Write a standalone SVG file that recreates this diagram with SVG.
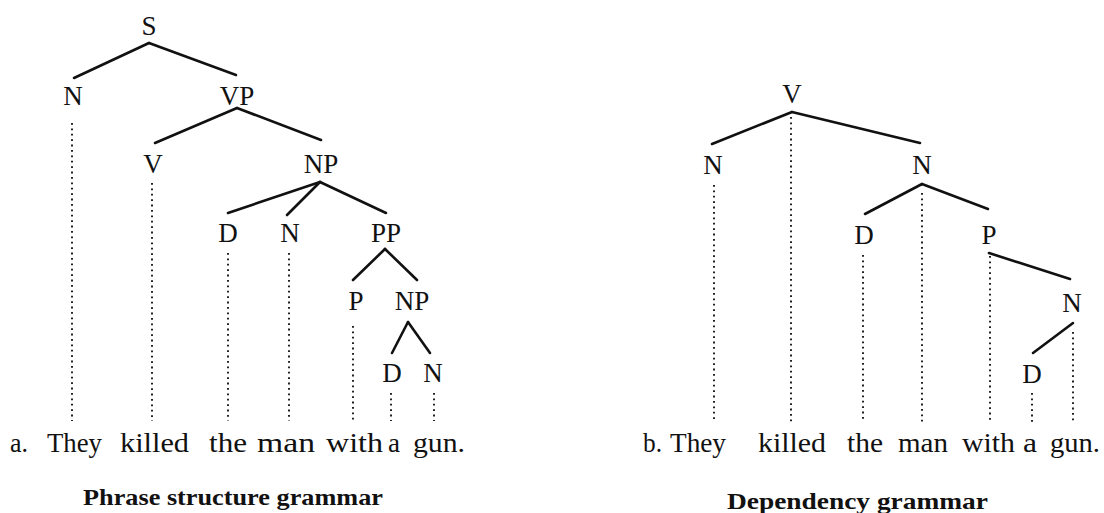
<svg xmlns="http://www.w3.org/2000/svg" width="1104" height="513" viewBox="0 0 1104 513">
<style>
.lbl{font-size:27px;fill:#111;text-anchor:middle}
.wd{font-size:28px;fill:#111}
.ttl{font-size:23px;font-weight:bold;fill:#111}
.edge{stroke:#111;stroke-width:2.6;fill:none;stroke-linecap:round}
.dot{stroke:#222;stroke-width:2;fill:none;stroke-dasharray:1.8 3.6}
</style>
<rect width="1104" height="513" fill="#fff"/>

<g font-family="Liberation Serif, Tinos, Times New Roman, Times, Nimbus Roman, FreeSerif, serif">
<!-- Phrase structure tree -->
<g id="connectors-a">
<line class="edge" x1="149" y1="43" x2="74" y2="78"/>
<line class="edge" x1="149" y1="43" x2="236" y2="75"/>
<line class="edge" x1="237" y1="108" x2="155" y2="143"/>
<line class="edge" x1="237" y1="108" x2="321" y2="140"/>
<line class="edge" x1="320" y1="182" x2="228" y2="213"/>
<line class="edge" x1="320" y1="182" x2="287" y2="215"/>
<line class="edge" x1="320" y1="182" x2="386" y2="213"/>
<line class="edge" x1="385" y1="249" x2="353" y2="280"/>
<line class="edge" x1="385" y1="249" x2="417" y2="280"/>
<line class="edge" x1="408" y1="322" x2="392" y2="353"/>
<line class="edge" x1="408" y1="322" x2="430" y2="353"/>
<line class="dot" x1="72" y1="123" x2="72" y2="421"/>
<line class="dot" x1="152" y1="183" x2="152" y2="421"/>
<line class="dot" x1="228" y1="253" x2="228" y2="421"/>
<line class="dot" x1="289" y1="253" x2="289" y2="421"/>
<line class="dot" x1="353" y1="326" x2="353" y2="421"/>
<line class="dot" x1="391" y1="393" x2="391" y2="421"/>
<line class="dot" x1="434" y1="393" x2="434" y2="421"/>
</g>
<g id="a-S"><text class="lbl" x="149" y="35">S</text></g>
<g id="a-N1"><text class="lbl" x="73" y="105">N</text></g>
<g id="a-VP"><text class="lbl" x="237" y="105">VP</text></g>
<g id="a-V"><text class="lbl" x="153" y="173">V</text></g>
<g id="a-NP1"><text class="lbl" x="321" y="173">NP</text></g>
<g id="a-D1"><text class="lbl" x="228" y="242">D</text></g>
<g id="a-N2"><text class="lbl" x="290" y="242">N</text></g>
<g id="a-PP"><text class="lbl" x="386" y="242">PP</text></g>
<g id="a-P"><text class="lbl" x="356" y="310">P</text></g>
<g id="a-NP2"><text class="lbl" x="412" y="310">NP</text></g>
<g id="a-D2"><text class="lbl" x="392" y="382">D</text></g>
<g id="a-N3"><text class="lbl" x="433" y="382">N</text></g>
<g id="a-sentence">
<text class="wd" x="10" y="452" textLength="18" lengthAdjust="spacingAndGlyphs">a.</text>
<text class="wd" x="47" y="452" textLength="55" lengthAdjust="spacingAndGlyphs">They</text>
<text class="wd" x="120" y="452" textLength="69" lengthAdjust="spacingAndGlyphs">killed</text>
<text class="wd" x="209" y="452" textLength="38" lengthAdjust="spacingAndGlyphs">the</text>
<text class="wd" x="257" y="452" textLength="58" lengthAdjust="spacingAndGlyphs">man</text>
<text class="wd" x="326" y="452" textLength="57" lengthAdjust="spacingAndGlyphs">with</text>
<text class="wd" x="388" y="452" textLength="12" lengthAdjust="spacingAndGlyphs">a</text>
<text class="wd" x="413" y="452" textLength="52" lengthAdjust="spacingAndGlyphs">gun.</text>
</g>
<g id="a-title"><text class="ttl" x="83" y="505" textLength="300" lengthAdjust="spacingAndGlyphs">Phrase structure grammar</text></g>

<!-- Dependency tree -->
<g id="connectors-b">
<line class="edge" x1="792" y1="112" x2="712" y2="144"/>
<line class="edge" x1="792" y1="112" x2="920" y2="143"/>
<line class="edge" x1="922" y1="184" x2="865" y2="214"/>
<line class="edge" x1="922" y1="184" x2="988" y2="209"/>
<line class="edge" x1="989" y1="253" x2="1070" y2="279"/>
<line class="edge" x1="1073" y1="323" x2="1033" y2="353"/>
<line class="dot" x1="714" y1="185" x2="714" y2="422"/>
<line class="dot" x1="791" y1="117" x2="791" y2="422"/>
<line class="dot" x1="863" y1="255" x2="863" y2="422"/>
<line class="dot" x1="922" y1="193" x2="922" y2="422"/>
<line class="dot" x1="990" y1="256" x2="990" y2="422"/>
<line class="dot" x1="1032" y1="393" x2="1032" y2="422"/>
<line class="dot" x1="1073" y1="332" x2="1073" y2="422"/>
</g>
<g id="b-V"><text class="lbl" x="792" y="103">V</text></g>
<g id="b-N1"><text class="lbl" x="713" y="174">N</text></g>
<g id="b-N2"><text class="lbl" x="922" y="174">N</text></g>
<g id="b-D1"><text class="lbl" x="864" y="244">D</text></g>
<g id="b-P"><text class="lbl" x="989" y="244">P</text></g>
<g id="b-N3"><text class="lbl" x="1072" y="312">N</text></g>
<g id="b-D2"><text class="lbl" x="1032" y="383">D</text></g>
<g id="b-sentence">
<text class="wd" x="643" y="452" textLength="19" lengthAdjust="spacingAndGlyphs">b.</text>
<text class="wd" x="670" y="452" textLength="56" lengthAdjust="spacingAndGlyphs">They</text>
<text class="wd" x="758" y="452" textLength="68" lengthAdjust="spacingAndGlyphs">killed</text>
<text class="wd" x="847" y="452" textLength="36" lengthAdjust="spacingAndGlyphs">the</text>
<text class="wd" x="898" y="452" textLength="50" lengthAdjust="spacingAndGlyphs">man</text>
<text class="wd" x="962" y="452" textLength="53" lengthAdjust="spacingAndGlyphs">with</text>
<text class="wd" x="1023" y="452" textLength="14" lengthAdjust="spacingAndGlyphs">a</text>
<text class="wd" x="1050" y="452" textLength="50" lengthAdjust="spacingAndGlyphs">gun.</text>
</g>
<g id="b-title"><text class="ttl" x="727" y="509" textLength="261" lengthAdjust="spacingAndGlyphs">Dependency grammar</text></g>
</g>
</svg>
